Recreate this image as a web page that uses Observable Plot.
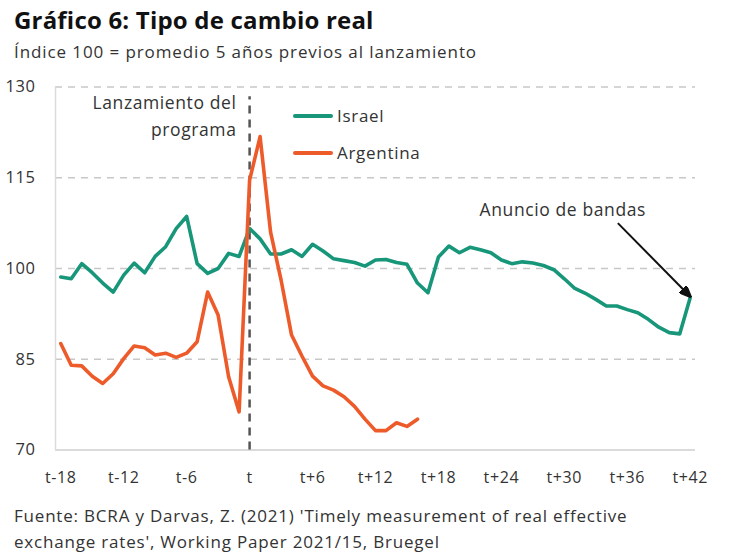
<!DOCTYPE html>
<html>
<head>
<meta charset="utf-8">
<script src="https://cdn.jsdelivr.net/npm/d3@7"></script>
<script src="https://cdn.jsdelivr.net/npm/@observablehq/plot@0.6"></script>
<style>
  body { margin: 0; background: #fff; font-family: "Open Sans", sans-serif; color: #222; }
  #wrap { position: relative; width: 730px; height: 560px; overflow: hidden; }
  .abs { position: absolute; white-space: nowrap; }
  #title { left: 14px; top: 3px; font-size: 24px; font-weight: 700; color: #111; letter-spacing: 0.2px; }
  #subtitle { left: 14px; top: 40px; font-size: 17px; color: #333; letter-spacing: 0.9px; }
  #caption { left: 14px; top: 503px; font-size: 17px; color: #333; line-height: 26px; letter-spacing: 0.8px; }
  #chart { position: absolute; left: 0; top: 70px; }
  .leg { position: absolute; font-size: 17px; color: #333; display: flex; align-items: center; letter-spacing: 0.7px; }
  .leg span.sw { display: inline-block; width: 40px; height: 4px; border-radius: 2px; margin-right: 4px; }
</style>
</head>
<body>
<div id="wrap">
  <div id="title" class="abs">Gráfico 6: Tipo de cambio real</div>
  <div id="subtitle" class="abs">Índice 100 = promedio 5 años previos al lanzamiento</div>
  <div id="chart"></div>
  <div id="legend"></div>
  <div id="caption" class="abs">Fuente: BCRA y Darvas, Z. (2021) 'Timely measurement of real effective<br>exchange rates', Working Paper 2021/15, Bruegel</div>
</div>
<script>
// Months relative to the launch (t = 0)
const israelStart = -18;
const israel = [
  98.6, 98.3, 100.8, 99.3, 97.6, 96.1, 98.9, 100.9, 99.3, 102.0,
  103.6, 106.6, 108.6, 100.8, 99.2, 100.0, 102.5, 102.0, 106.6, 104.9,
  102.4, 102.4, 103.1, 102.0, 104.0, 102.9, 101.6, 101.3, 101.0, 100.4,
  101.4, 101.5, 101.0, 100.7, 97.6, 96.0, 101.9, 103.7, 102.6, 103.5,
  103.1, 102.6, 101.4, 100.8, 101.1, 100.9, 100.5, 99.8, 98.3, 96.7,
  95.9, 94.9, 93.8, 93.8, 93.2, 92.7, 91.6, 90.3, 89.4, 89.2,
  95.2
];
const argentinaStart = -18;
const argentina = [
  87.6, 84.0, 83.9, 82.2, 81.0, 82.6, 85.1, 87.2, 86.9, 85.7,
  86.0, 85.3, 86.0, 87.9, 96.1, 92.3, 82.1, 76.3, 114.6, 121.8,
  106.0, 98.1, 89.0, 85.5, 82.2, 80.6, 79.9, 78.8, 77.2, 75.1,
  73.2, 73.2, 74.5, 73.9, 75.1
];
const seriesNames = ["Israel", "Argentina"];
const seriesColors = ["#17967a", "#ee5b2b"];
const xTicks = [-18, -12, -6, 0, 6, 12, 18, 24, 30, 36, 42];
const yTicks = [70, 85, 100, 115, 130];
const launchLabel = ["Lanzamiento del", "programa"];
const bandsLabel = "Anuncio de bandas";

const fmtX = d => d === 0 ? "t" : (d < 0 ? "t-" + (-d) : "t+" + d);

const israelData = israel.map((v, i) => ({x: israelStart + i, y: v}));
const argData = argentina.map((v, i) => ({x: argentinaStart + i, y: v}));
const lastIsrael = israelData[israelData.length - 1];

// filled arrow head marker
function filledArrow(color, context) {
  const ns = "http://www.w3.org/2000/svg";
  const doc = (context && context.document) || document;
  const m = doc.createElementNS(ns, "marker");
  m.setAttribute("viewBox", "-6 -5 12 10");
  m.setAttribute("markerWidth", "6");
  m.setAttribute("markerHeight", "5");
  m.setAttribute("refX", "4");
  m.setAttribute("refY", "0");
  m.setAttribute("orient", "auto");
  const p = doc.createElementNS(ns, "path");
  p.setAttribute("d", "M-6,-5L6,0L-6,5Z");
  p.setAttribute("fill", "#111");
  m.appendChild(p);
  return m;
}

const chart = Plot.plot({
  width: 730,
  height: 425,
  marginTop: 16.5,
  marginBottom: 45.5,
  marginLeft: 55,
  marginRight: 35,
  style: {fontFamily: "Open Sans, sans-serif", fontSize: "16px", color: "#333", background: "transparent", letterSpacing: "0.6px"},
  x: {domain: [-18.5, 42.5], label: null},
  y: {domain: [70, 130], label: null},
  marks: [
    Plot.gridY(yTicks.filter(d => d > 70), {stroke: "#c8c8c8", strokeOpacity: 1, strokeWidth: 1.5, strokeDasharray: "7,6"}),
    Plot.ruleY([70], {stroke: "#cfcfcf", strokeWidth: 1.5}),
    Plot.ruleX([-18.5], {stroke: "#dcdcdc", strokeWidth: 1.5}),
    Plot.axisX({ticks: xTicks, tickFormat: fmtX, tickSize: 0, tickPadding: 22, fontSize: 16, fill: "#333", label: null}),
    Plot.axisY({ticks: yTicks, tickSize: 0, tickPadding: 20, fontSize: 16.5, fill: "#333", label: null}),
    Plot.ruleX([0], {y1: 70, y2: 128.4, stroke: "#555", strokeWidth: 2.5, strokeDasharray: "8,6"}),
    Plot.line(israelData, {x: "x", y: "y", stroke: seriesColors[0], strokeWidth: 3.6, strokeLinejoin: "round"}),
    Plot.line(argData, {x: "x", y: "y", stroke: seriesColors[1], strokeWidth: 3.6, strokeLinejoin: "round"}),
    Plot.text([launchLabel[0]], {x: -1.25, y: 127.3, text: d => d, textAnchor: "end", fontSize: 17.5, fill: "#333"}),
    Plot.text([launchLabel[1]], {x: -1.25, y: 122.9, text: d => d, textAnchor: "end", fontSize: 17.5, fill: "#333"}),
    Plot.text([bandsLabel], {x: 29.85, y: 109.6, text: d => d, fontSize: 17.5, fill: "#333"}),
    Plot.link([lastIsrael], {x1: 35.1, y1: 107.5, x2: d => d.x - 0.05, y2: d => d.y + 0.25, stroke: "#111", strokeWidth: 2, markerEnd: filledArrow})
  ]
});
document.getElementById("chart").appendChild(chart);

// Legend (inside plot area, as in the reference)
const legend = document.getElementById("legend");
const legendTops = [104, 141];
seriesNames.forEach((name, i) => {
  const el = document.createElement("div");
  el.className = "leg";
  el.style.left = "293px";
  el.style.top = legendTops[i] + "px";
  el.innerHTML = `<span class="sw" style="background:${seriesColors[i]}"></span>${name}`;
  legend.appendChild(el);
});
</script>
</body>
</html>
